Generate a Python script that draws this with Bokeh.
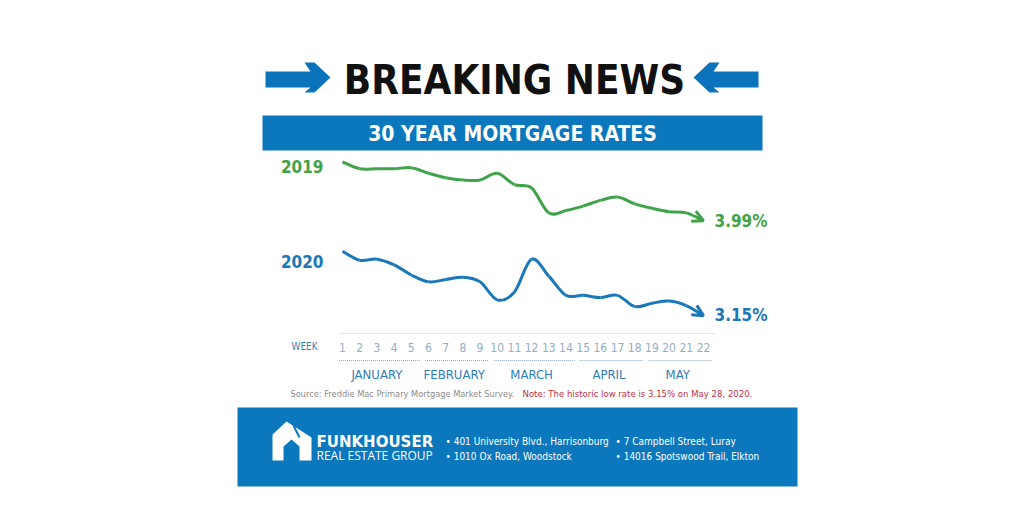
from bokeh.plotting import figure
from bokeh.models import Range1d, Arrow, OpenHead
from bokeh.core.properties import value
from bokeh.embed import file_html
from bokeh.resources import INLINE

# ---------------- data ----------------
weeks = list(range(1, 23))
week_labels = [str(w) for w in weeks]
series_names = ["2019", "2020"]
rates_2019 = [4.51, 4.45, 4.45, 4.45, 4.46, 4.41, 4.37, 4.35, 4.35, 4.41, 4.31,
              4.28, 4.06, 4.08, 4.12, 4.17, 4.20, 4.14, 4.10, 4.07, 4.06, 3.99]
rates_2020 = [3.72, 3.64, 3.65, 3.60, 3.51, 3.45, 3.47, 3.49, 3.45, 3.29, 3.36,
              3.65, 3.50, 3.33, 3.33, 3.31, 3.33, 3.23, 3.26, 3.28, 3.24, 3.15]
months = ["JANUARY", "FEBRUARY", "MARCH", "APRIL", "MAY"]
month_first_week = [1, 6, 10, 15, 19]
month_last_week = [5, 9, 14, 18, 22]

# ---------------- styles ----------------
BLUE = "#0b77bd"
GREEN = "#3fa349"
LINE_BLUE = "#1a78b9"
COND = "DejaVu Sans Condensed"

W, H = 1008, 496
p = figure(width=W, height=H, x_range=Range1d(0, W), y_range=Range1d(H, 0),
           x_axis_type=None, y_axis_type=None, toolbar_location=None,
           output_backend="svg", min_border=0, outline_line_color=None)
p.background_fill_color = "white"
p.border_fill_color = "white"

# calibrated data scales (week -> horizontal, rate -> vertical)
x_w1, x_w22 = 342.0, 703.0
ppw = (x_w22 - x_w1) / (weeks[-1] - weeks[0])
p.extra_x_ranges = {"week": Range1d(weeks[0] - x_w1 / ppw, weeks[0] + (W - x_w1) / ppw)}
y_ref, r_ref, ppr = 161.5, 4.51, 113.0
p.extra_y_ranges = {"rate": Range1d(r_ref - (H - y_ref) / ppr, r_ref + y_ref / ppr)}

# ---------------- header ----------------
left_arrow_x = [265, 310, 304, 314, 330, 314, 304, 310, 265]
arrow_y = [71, 71, 62, 62, 77, 92, 92, 87, 87]
right_arrow_x = [758, 713, 719, 709, 693, 709, 719, 713, 758]
p.patches(xs=[left_arrow_x, right_arrow_x], ys=[arrow_y, arrow_y],
          fill_color="#0a73bb", line_color=None)
p.text(x=[514], y=[79], text=["BREAKING NEWS"], text_align="center",
       text_baseline="middle", text_font=value(COND), text_font_style="bold",
       text_font_size="40px", text_color="#111111")

p.quad(left=[262], right=[762], top=[115], bottom=[150], fill_color=BLUE, line_color=None)
p.text(x=[512], y=[133], text=["30 YEAR MORTGAGE RATES"], text_align="center",
       text_baseline="middle", text_font=value(COND), text_font_style="bold",
       text_font_size="21px", text_color="white")

# ---------------- lines ----------------
def bezier_parts(xs, ys):
    n = len(xs)
    out = dict(x0=[], y0=[], x1=[], y1=[], cx0=[], cy0=[], cx1=[], cy1=[])
    for i in range(n - 1):
        xa, ya = xs[max(i - 1, 0)], ys[max(i - 1, 0)]
        xb, yb = xs[i], ys[i]
        xc, yc = xs[i + 1], ys[i + 1]
        xd, yd = xs[min(i + 2, n - 1)], ys[min(i + 2, n - 1)]
        out["x0"].append(xb); out["y0"].append(yb)
        out["x1"].append(xc); out["y1"].append(yc)
        out["cx0"].append(xb + (xc - xa) / 6.0); out["cy0"].append(yb + (yc - ya) / 6.0)
        out["cx1"].append(xc - (xd - xb) / 6.0); out["cy1"].append(yc - (yd - yb) / 6.0)
    return out

for rates, col in [(rates_2019, GREEN), (rates_2020, LINE_BLUE)]:
    b = bezier_parts(weeks, rates)
    p.bezier(x0=b["x0"], y0=b["y0"], x1=b["x1"], y1=b["y1"], cx0=b["cx0"], cy0=b["cy0"],
             cx1=b["cx1"], cy1=b["cy1"], line_color=col, line_width=3,
             x_range_name="week", y_range_name="rate")
    p.add_layout(Arrow(end=OpenHead(size=11, line_width=3, line_color=col),
                       x_start=weeks[-2], y_start=rates[-2], x_end=weeks[-1], y_end=rates[-1],
                       line_alpha=0, x_range_name="week", y_range_name="rate"))

# series labels
p.text(x=[weeks[0], weeks[0]], y=[rates_2019[0], rates_2020[0]], text=series_names,
       x_offset=-19, y_offset=[4, 10], text_align="right", text_baseline="middle",
       text_font=value(COND), text_font_style="bold", text_font_size="17px",
       text_color=[GREEN, LINE_BLUE], x_range_name="week", y_range_name="rate")
# end values
p.text(x=[weeks[-1], weeks[-1]], y=[rates_2019[-1], rates_2020[-1]],
       text=[f"{rates_2019[-1]:.2f}%", f"{rates_2020[-1]:.2f}%"],
       x_offset=11, y_offset=[0, -1], text_align="left", text_baseline="middle",
       text_font=value(COND), text_font_style="bold", text_font_size="17px",
       text_color=[GREEN, LINE_BLUE], x_range_name="week", y_range_name="rate")

# ---------------- week axis ----------------
p.segment(x0=[weeks[0] - 0.25], x1=[weeks[-1] + 0.7], y0=[333], y1=[333],
          line_color="#e3eaef", line_width=1, x_range_name="week")
p.text(x=[291], y=[346], text=["WEEK"], text_align="left", text_baseline="middle",
       text_font=value(COND), text_font_size="10px", text_color="#3d7fb3")
p.text(x=weeks, y=[347] * len(weeks), text=week_labels, text_align="center",
       text_baseline="middle", text_font=value(COND), text_font_size="12px",
       text_color="#93aec4", x_range_name="week")
p.segment(x0=[w - 0.2 for w in month_first_week], x1=[w + 0.5 for w in month_last_week],
          y0=[360] * 5, y1=[360] * 5, line_color="#8eaac0", line_width=1,
          line_dash="1 1", x_range_name="week")
p.text(x=[(a + b) / 2 for a, b in zip(month_first_week, month_last_week)], y=[374] * 5,
       text=months, text_align="center", text_baseline="middle",
       text_font=value(COND), text_font_size="13px", text_color="#2f7cba",
       x_range_name="week")

# source / note
p.text(x=[290], y=[393], text=["Source: Freddie Mac Primary Mortgage Market Survey."],
       text_align="left", text_baseline="middle", text_font=value(COND),
       text_font_size="9.2px", text_color="#8c8c8c")
p.text(x=[522], y=[393], text=["Note: The historic low rate is 3.15% on May 28, 2020."],
       text_align="left", text_baseline="middle", text_font=value(COND),
       text_font_size="9.5px", text_color="#c1303f")

# ---------------- footer ----------------
p.quad(left=[237], right=[797], top=[407], bottom=[486], fill_color=BLUE, line_color=None)
p.patches(xs=[[272, 286, 311, 311, 272]], ys=[[434, 421, 437, 460, 460]],
          fill_color="white", line_color=None)
p.patches(xs=[[283, 283, 291, 299, 299]], ys=[[461, 446, 439, 446, 461]],
          fill_color=BLUE, line_color=None)
p.segment(x0=[293], y0=[425], x1=[299], y1=[437], line_color=BLUE, line_width=2)
p.text(x=[316], y=[441.5], text=["FUNKHOUSER"], text_align="left", text_baseline="middle",
       text_font=value("DejaVu Sans"), text_font_style="bold", text_font_size="15px",
       text_color="white")
p.text(x=[316], y=[455], text=["REAL ESTATE GROUP"], text_align="left",
       text_baseline="middle", text_font=value("Open Sans"), text_font_size="12px",
       text_color="white")
p.text(x=[445, 445, 615, 615], y=[441, 456, 441, 456],
       text=["•  401 University Blvd., Harrisonburg", "•  1010 Ox Road, Woodstock",
             "•  7 Campbell Street, Luray", "•  14016 Spotswood Trail, Elkton"],
       text_align="left", text_baseline="middle", text_font=value(COND),
       text_font_size="10px", text_color="white")

open("out.html", "w").write(file_html(p, INLINE))
